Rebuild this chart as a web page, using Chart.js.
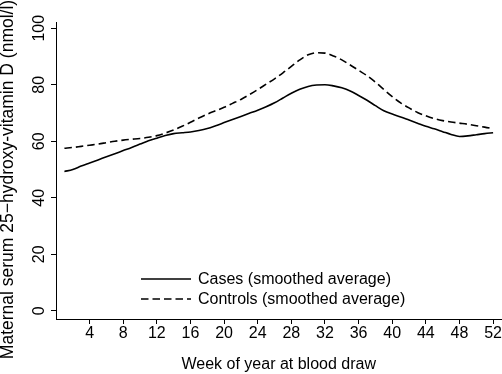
<!DOCTYPE html>
<html>
<head>
<meta charset="utf-8">
<script src="https://cdn.jsdelivr.net/npm/chart.js@4/dist/chart.umd.min.js"></script>
<style>
  html, body { margin: 0; padding: 0; background: #fff; }
  #wrap { width: 502px; height: 374px; }
</style>
</head>
<body>
<div id="wrap"><canvas id="vitDChart" width="502" height="374"></canvas></div>
<script>
// weeks of year, smoothed average 25(OH)D values
const weeks = [
  1, 2, 3, 4, 5, 6, 7, 8, 9, 10, 11, 12, 13,
  14, 15, 16, 17, 18, 19, 20, 21, 22, 23, 24, 25, 26,
  27, 28, 29, 30, 31, 32, 33, 34, 35, 36, 37, 38, 39,
  40, 41, 42, 43, 44, 45, 46, 47, 48, 49, 50, 51, 52
];
const casesValues = [
  49.3, 50.0, 51.2, 52.3, 53.4, 54.5, 55.6, 56.7, 57.8, 59.0, 60.2, 61.1, 62.0,
  62.7, 63.0, 63.3, 63.8, 64.5, 65.5, 66.6, 67.7, 68.8, 69.9, 71.0, 72.2, 73.6,
  75.3, 77.0, 78.4, 79.4, 79.9, 80.0, 79.6, 78.9, 77.8, 76.2, 74.5, 72.6, 70.8,
  69.6, 68.6, 67.5, 66.4, 65.3, 64.4, 63.4, 62.4, 61.7, 61.9, 62.3, 62.7, 63.0
];
const controlsValues = [
  57.5, 57.8, 58.2, 58.6, 59.0, 59.5, 60.0, 60.4, 60.7, 61.0, 61.4, 62.0, 62.9,
  64.0, 65.3, 66.7, 68.2, 69.6, 70.8, 72.0, 73.4, 74.8, 76.5, 78.3, 80.2, 82.1,
  84.2, 86.5, 88.8, 90.6, 91.3, 91.2, 90.2, 88.8, 87.0, 85.1, 83.2, 80.9, 78.3,
  75.8, 73.6, 71.8, 70.2, 69.0, 68.0, 67.3, 66.8, 66.4, 66.0, 65.5, 65.0, 64.4
];
const xTickValues = [4, 8, 12, 16, 20, 24, 28, 32, 36, 40, 44, 48, 52];
const yTickValues = [0, 20, 40, 60, 80, 100];
const seriesLabels = ["Cases (smoothed average)", "Controls (smoothed average)"];
const xTitle = "Week of year at blood draw";
const yTitle = "Maternal serum 25\u2212hydroxy-vitamin D (nmol/l)";

const FONT = "'Liberation Sans', Arial, Helvetica, sans-serif";

function toPoints(ys) {
  return weeks.map((w, i) => ({ x: w, y: ys[i] }));
}

// rotated y tick labels, y title and the in-plot legend (Stata look)
const stataText = {
  id: "stataText",
  afterDraw(chart) {
    const ctx = chart.ctx;
    const yScale = chart.scales.y;
    ctx.save();
    ctx.fillStyle = "#000";
    ctx.font = "16px " + FONT;

    // y tick labels, reading bottom to top
    ctx.textAlign = "center";
    ctx.textBaseline = "alphabetic";
    yTickValues.forEach(v => {
      const py = yScale.getPixelForValue(v);
      ctx.save();
      ctx.translate(44, py);
      ctx.rotate(-Math.PI / 2);
      ctx.fillText(String(v), 0, 0);
      ctx.restore();
    });

    // y axis title
    ctx.save();
    ctx.font = "17.5px " + FONT;
    ctx.translate(12.5, 179.5);
    ctx.rotate(-Math.PI / 2);
    ctx.fillText(yTitle, 0, 0);
    ctx.restore();

    // legend
    ctx.textAlign = "left";
    ctx.textBaseline = "middle";
    const rows = [279, 299];
    chart.data.datasets.forEach((ds, i) => {
      const ly = rows[i];
      ctx.beginPath();
      ctx.lineWidth = ds.borderWidth;
      ctx.strokeStyle = ds.borderColor;
      ctx.setLineDash(ds.borderDash || []);
      ctx.moveTo(141, ly);
      ctx.lineTo(191, ly);
      ctx.stroke();
      ctx.setLineDash([]);
      ctx.fillText(ds.label, 198, ly + 1);
    });
    ctx.restore();
  }
};

const ctx = document.getElementById("vitDChart").getContext("2d");

new Chart(ctx, {
  type: "line",
  data: {
    datasets: [
      {
        label: seriesLabels[0],
        data: toPoints(casesValues),
        borderColor: "#000",
        borderWidth: 1.6,
        pointRadius: 0,
        fill: false,
        cubicInterpolationMode: "monotone"
      },
      {
        label: seriesLabels[1],
        data: toPoints(controlsValues),
        borderColor: "#000",
        borderWidth: 1.6,
        borderDash: [7.5, 4],
        pointRadius: 0,
        fill: false,
        cubicInterpolationMode: "monotone"
      }
    ]
  },
  options: {
    responsive: false,
    animation: false,
    events: [],
    layout: { padding: { top: 22, left: 0, right: 0, bottom: 0 } },
    plugins: {
      legend: { display: false },
      tooltip: { enabled: false }
    },
    scales: {
      x: {
        type: "linear",
        min: 0,
        max: 53,
        afterBuildTicks: scale => {
          scale.ticks = xTickValues.map(v => ({ value: v }));
        },
        afterFit: scale => { scale.height = 55; },
        border: { display: true, color: "#000", width: 1 },
        grid: { drawOnChartArea: false, tickLength: 5, color: "#000", tickWidth: 1 },
        ticks: {
          color: "#000",
          padding: 0,
          maxRotation: 0,
          autoSkip: false,
          font: { family: FONT, size: 16 }
        },
        title: {
          display: true,
          text: xTitle,
          color: "#000",
          padding: { top: 0, bottom: 0 },
          font: { family: FONT, size: 16 }
        }
      },
      y: {
        type: "linear",
        min: -2.9,
        max: 102.2,
        afterBuildTicks: scale => {
          scale.ticks = yTickValues.map(v => ({ value: v }));
        },
        afterFit: scale => { scale.width = 56; },
        border: { display: true, color: "#000", width: 1 },
        grid: { drawOnChartArea: false, tickLength: 5, color: "#000", tickWidth: 1 },
        ticks: { display: false }
      }
    }
  },
  plugins: [stataText]
});
</script>
</body>
</html>
